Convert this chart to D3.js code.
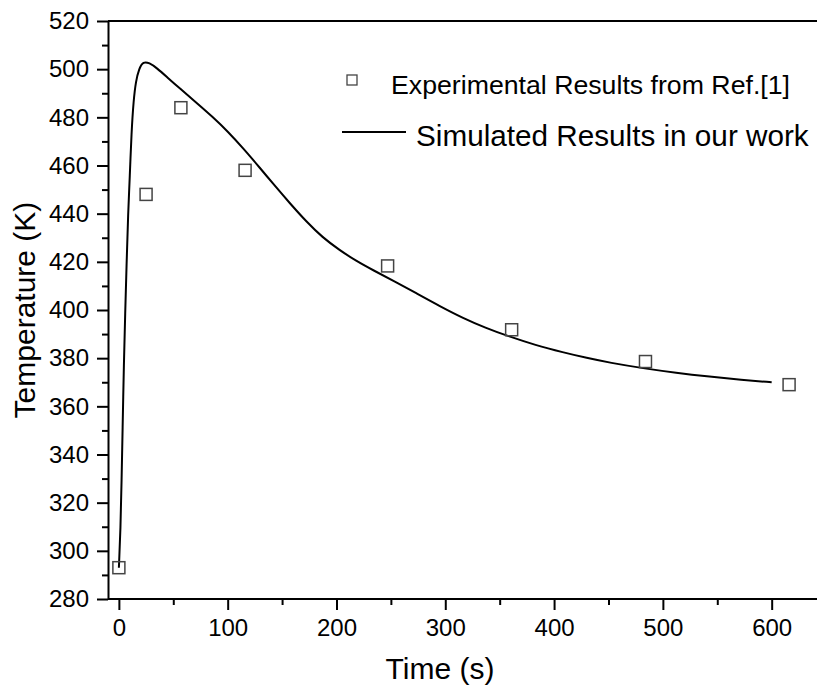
<!DOCTYPE html>
<html>
<head>
<meta charset="utf-8">
<script src="https://cdn.jsdelivr.net/npm/d3@7.9.0/dist/d3.min.js"></script>
<style>
  body { margin: 0; background: #fff; }
  svg { display: block; font-family: "Liberation Sans", Arial, sans-serif; }
</style>
</head>
<body>
<svg id="chart" width="817" height="688"></svg>
<script>
// measured points (Ref.[1])
const expTime = [0, 25, 57, 116, 247, 361, 484, 616];
const expTemp = [293, 448, 484, 458, 418.3, 391.8, 378.6, 369];

// simulated curve
const simTime = [0, 1.5, 2.5, 3.4, 4.6, 5.8, 7.1, 8.5, 10, 11.6, 13.5, 15.6, 18.5, 22.4, 28, 34.6, 45, 56, 70, 86.7, 100, 115, 130, 141.8, 157, 172.5, 187, 203, 218, 233.7, 253, 273.6, 295, 316.5, 337, 357.3, 383, 408.4, 430, 451.3, 482, 512, 543.2, 572, 600];
const simTemp = [293, 308.7, 329.4, 350.2, 377.9, 398.6, 419.4, 440.2, 455, 474, 487, 495, 500.2, 503.2, 502.6, 500.6, 496.4, 492, 486.6, 480, 474.2, 466.8, 458.8, 452.4, 444.4, 436.6, 430.2, 424.8, 420.4, 416.5, 412, 406.9, 401.6, 396.6, 392.6, 389.2, 385.4, 382.4, 380.1, 378.1, 375.8, 373.9, 372.3, 371, 370];

const xTicks = [0, 100, 200, 300, 400, 500, 600];
const xMinor = [50, 150, 250, 350, 450, 550];
const yTicks = [280, 300, 320, 340, 360, 380, 400, 420, 440, 460, 480, 500, 520];
const yMinor = [290, 310, 330, 350, 370, 390, 410, 430, 450, 470, 490, 510];

const legendLabels = ['Experimental Results from Ref.[1]', 'Simulated Results in our work'];

const svg = d3.select('#chart');
const plotLeft = 108, plotTop = 21, plotBottom = 599;

const x = d3.scaleLinear().domain([-10, 650]).range([plotLeft, plotLeft + 660 * 1.088]);
const y = d3.scaleLinear().domain([280, 520]).range([plotBottom, plotTop]);

// frame top line
svg.append('line')
  .attr('x1', plotLeft).attr('x2', 817)
  .attr('y1', plotTop).attr('y2', plotTop)
  .attr('stroke', '#000').attr('stroke-width', 2);

// minor ticks
svg.append('g')
  .attr('transform', `translate(0,${plotBottom})`)
  .call(d3.axisBottom(x).tickValues(xMinor).tickSize(6).tickFormat('').tickSizeOuter(0))
  .call(g => g.select('.domain').remove())
  .call(g => g.selectAll('line').attr('stroke-width', 2));
svg.append('g')
  .attr('transform', `translate(${plotLeft},0)`)
  .call(d3.axisLeft(y).tickValues(yMinor).tickSize(6).tickFormat('').tickSizeOuter(0))
  .call(g => g.select('.domain').remove())
  .call(g => g.selectAll('line').attr('stroke-width', 2));

// major axes
const xAxis = svg.append('g')
  .attr('transform', `translate(0,${plotBottom})`)
  .call(d3.axisBottom(x).tickValues(xTicks).tickSize(11).tickPadding(9).tickSizeOuter(0));
const yAxis = svg.append('g')
  .attr('transform', `translate(${plotLeft},0)`)
  .call(d3.axisLeft(y).tickValues(yTicks).tickSize(11).tickPadding(8).tickSizeOuter(0));

[xAxis, yAxis].forEach(g => {
  g.select('.domain').attr('stroke-width', 2);
  g.selectAll('line').attr('stroke-width', 2);
  g.selectAll('text').attr('font-size', 24).attr('fill', '#000')
    .attr('font-family', '"Liberation Sans", Arial, sans-serif');
});
xAxis.select('.domain').attr('d', `M${plotLeft},0H817`);

// axis titles
svg.append('text')
  .attr('x', 440).attr('y', 679)
  .attr('text-anchor', 'middle')
  .attr('font-size', 30)
  .text('Time (s)');
svg.append('text')
  .attr('transform', `translate(35,${(plotTop + plotBottom) / 2}) rotate(-90)`)
  .attr('text-anchor', 'middle')
  .attr('font-size', 30)
  .text('Temperature (K)');

// simulated curve
const simData = simTime.map((t, i) => ({ t, v: simTemp[i] }));
const line = d3.line()
  .x(d => x(d.t))
  .y(d => y(d.v))
  .curve(d3.curveBasis);
svg.append('path')
  .datum(simData)
  .attr('d', line)
  .attr('fill', 'none')
  .attr('stroke', '#000')
  .attr('stroke-width', 2);

// experimental squares
const sq = 12;
svg.selectAll('rect.exp')
  .data(expTime.map((t, i) => ({ t, v: expTemp[i] })))
  .enter()
  .append('rect')
  .attr('class', 'exp')
  .attr('x', d => x(d.t) - sq / 2)
  .attr('y', d => y(d.v) - sq / 2)
  .attr('width', sq).attr('height', sq)
  .attr('fill', 'none')
  .attr('stroke', '#444')
  .attr('stroke-width', 1.5);

// legend
const lg = svg.append('g');
lg.append('rect')
  .attr('x', 347).attr('y', 75)
  .attr('width', 10).attr('height', 10)
  .attr('fill', 'none').attr('stroke', '#444').attr('stroke-width', 1.3);
lg.append('text')
  .attr('x', 391).attr('y', 94)
  .attr('font-size', 26.7)
  .text(legendLabels[0]);
lg.append('line')
  .attr('x1', 342).attr('x2', 406)
  .attr('y1', 132).attr('y2', 132)
  .attr('stroke', '#000').attr('stroke-width', 2);
lg.append('text')
  .attr('x', 416).attr('y', 146)
  .attr('font-size', 29.7)
  .text(legendLabels[1]);
</script>
</body>
</html>
